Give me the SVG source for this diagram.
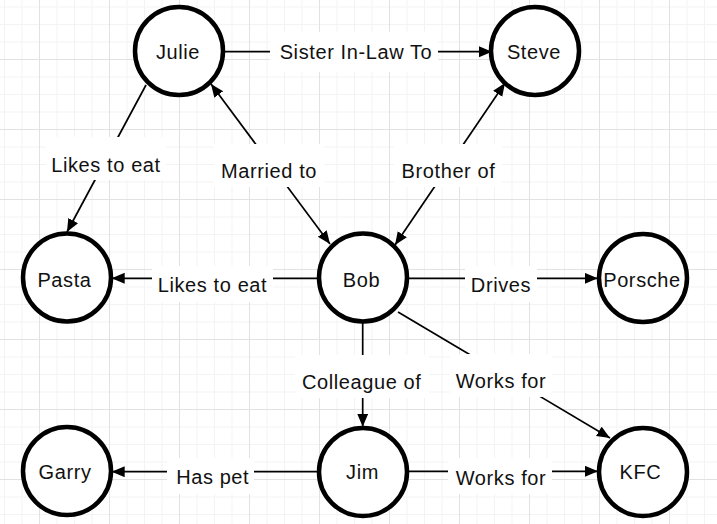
<svg xmlns="http://www.w3.org/2000/svg" width="717" height="524" viewBox="0 0 717 524">
<style>
.node circle{fill:#fff;stroke:#000;stroke-width:4.5}
text{font-family:"Liberation Sans",Arial,sans-serif;font-size:20px;letter-spacing:0.6px;fill:#111;text-anchor:middle}
.edge line{stroke:#000;stroke-width:1.7;fill:none}
.lbl{fill:#fff}
</style>
<defs>
<pattern id="grid" patternUnits="userSpaceOnUse" x="39" y="59" width="70" height="70">
<path d="M18,0V70M35.5,0V70M53,0V70M0,18H70M0,35.5H70M0,53H70" stroke="#f3f3f3" stroke-width="1" fill="none"/>
<path d="M0.5,0V70M0,0.5H70" stroke="#e2e2e2" stroke-width="1" fill="none"/>
</pattern>
<marker id="arr" markerUnits="userSpaceOnUse" markerWidth="14" markerHeight="12" refX="13" refY="5.5" orient="auto-start-reverse">
<path d="M0,0L13,5.5L0,11z" fill="#000"/>
</marker>
</defs>
<rect width="717" height="524" fill="#fff"/>
<rect width="717" height="524" fill="url(#grid)"/>
<g id="connectors" class="edge">
<g id="e-julie-steve"><line x1="225" y1="51.7" x2="492" y2="51.7" marker-end="url(#arr)"/><rect class="lbl" x="270" y="32" width="168" height="40"/><text x="356" y="59.3">Sister In-Law To</text></g>
<g id="e-julie-pasta"><line x1="146" y1="85" x2="67" y2="232" marker-end="url(#arr)"/><rect class="lbl" x="46" y="137" width="120" height="43"/><text x="106" y="171.7">Likes to eat</text></g>
<g id="e-bob-julie"><line x1="330" y1="244" x2="211" y2="84" marker-start="url(#arr)" marker-end="url(#arr)"/><rect class="lbl" x="214" y="144" width="110" height="43"/><text x="269" y="178.3">Married to</text></g>
<g id="e-bob-steve"><line x1="395" y1="245" x2="505" y2="83" marker-start="url(#arr)" marker-end="url(#arr)"/><rect class="lbl" x="394" y="144" width="108" height="43"/><text x="448.5" y="178.3">Brother of</text></g>
<g id="e-bob-pasta"><line x1="318" y1="278.3" x2="111.7" y2="278.3" marker-end="url(#arr)"/><rect class="lbl" x="152" y="266" width="121" height="36"/><text x="212.5" y="291.7">Likes to eat</text></g>
<g id="e-bob-porsche"><line x1="408" y1="278.3" x2="597.7" y2="278.3" marker-end="url(#arr)"/><rect class="lbl" x="465" y="266" width="72" height="36"/><text x="501" y="291.7">Drives</text></g>
<g id="e-bob-jim"><line x1="362.7" y1="322" x2="362.7" y2="426.7" marker-end="url(#arr)"/><rect class="lbl" x="295" y="355" width="134" height="43"/><text x="361.7" y="389.3">Colleague of</text></g>
<g id="e-bob-kfc"><line x1="398" y1="312" x2="610" y2="438" marker-end="url(#arr)"/><rect class="lbl" x="450" y="354" width="102" height="43"/><text x="501" y="387.7">Works for</text></g>
<g id="e-jim-garry"><line x1="318" y1="471.7" x2="111.7" y2="471.7" marker-end="url(#arr)"/><rect class="lbl" x="167" y="458" width="87" height="36"/><text x="212.7" y="484.3">Has pet</text></g>
<g id="e-jim-kfc"><line x1="408" y1="471.3" x2="598" y2="471.3" marker-end="url(#arr)"/><rect class="lbl" x="448" y="458" width="104" height="36"/><text x="501" y="485">Works for</text></g>
</g>
<g id="julie" class="node"><circle cx="179" cy="51" r="44"/><text x="178" y="59.3">Julie</text></g>
<g id="steve" class="node"><circle cx="535" cy="51" r="44"/><text x="534" y="59.3">Steve</text></g>
<g id="pasta" class="node"><circle cx="67" cy="277.5" r="44"/><text x="64.5" y="286.7">Pasta</text></g>
<g id="bob" class="node"><circle cx="363" cy="277.5" r="44"/><text x="361.5" y="286.7">Bob</text></g>
<g id="porsche" class="node"><circle cx="643" cy="278" r="44"/><text x="642" y="286.7">Porsche</text></g>
<g id="garry" class="node"><circle cx="67" cy="471" r="44"/><text x="65" y="479.3">Garry</text></g>
<g id="jim" class="node"><circle cx="363" cy="472" r="44"/><text x="362.5" y="479.3">Jim</text></g>
<g id="kfc" class="node"><circle cx="643" cy="472" r="44"/><text x="640.5" y="479.3">KFC</text></g>
</svg>
